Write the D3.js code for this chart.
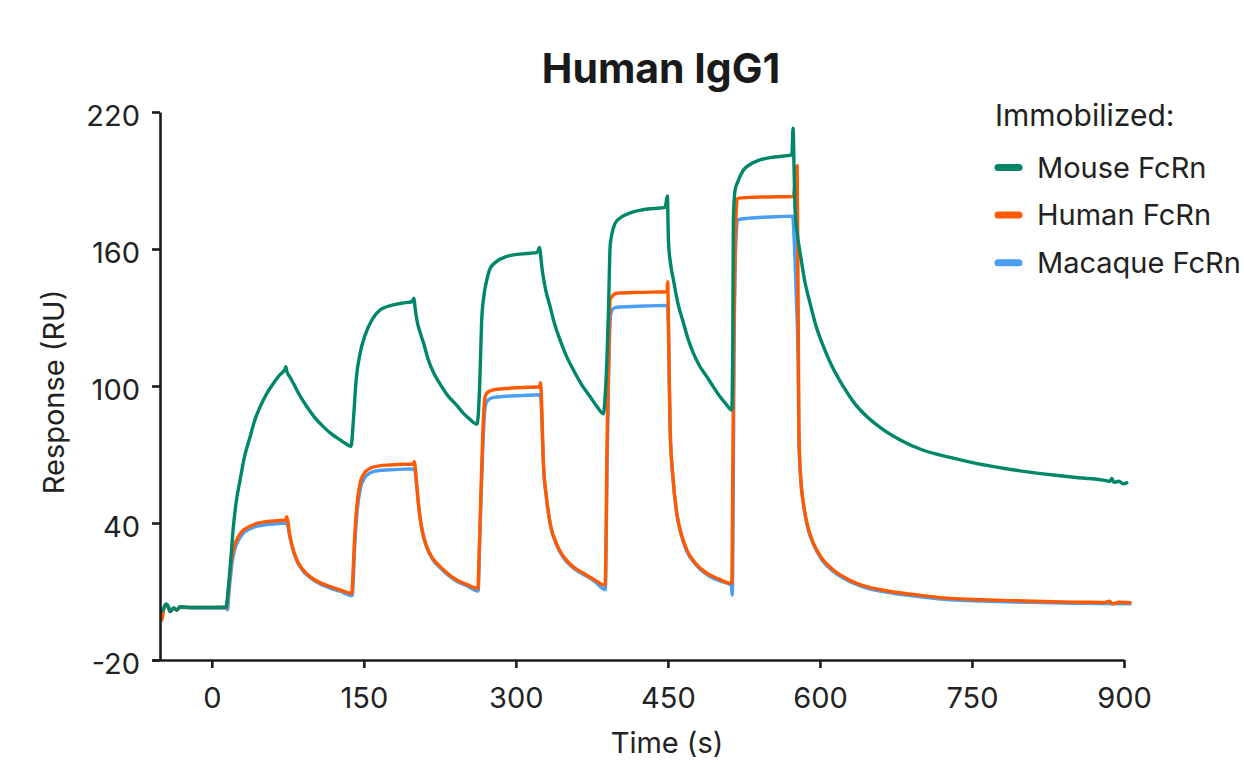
<!DOCTYPE html>
<html>
<head>
<meta charset="utf-8">
<script src="https://cdn.jsdelivr.net/npm/d3@7/dist/d3.min.js"></script>
<style>
  html, body { margin: 0; padding: 0; background: #fff; }
  svg { display: block; font-family: Inter, "Noto Sans", sans-serif; }
</style>
</head>
<body>
<svg id="chart" width="1244" height="763"></svg>
<script>
// ---------------- DATA ----------------
const title = "Human IgG1";
const xLabel = "Time (s)";
const yLabel = "Response (RU)";
const legendTitle = "Immobilized:";
const seriesNames = ["Mouse FcRn", "Human FcRn", "Macaque FcRn"];
const xTicks = [0, 150, 300, 450, 600, 750, 900];
const yTicks = [-20, 40, 100, 160, 220];
const xDomain = [-59, 900];
const yDomain = [-20, 220];

// [time (s), response (RU)]
const mouseFcRn = [
  [-49, 1.5], [-47.8, 2.2], [-45.1, 4.5], [-43, 3.5], [-41.1, 1.2], [-37.9, 2.8], [-34.5, 1.9], [-31.3, 3.3],
  [-20, 3.0], [0, 3.0], [14, 3.2],
  [16, 10], [18, 20], [21.3, 38.4], [24, 49], [27.9, 58.8], [32, 68.5], [37.8, 77.8], [42, 84.5], [47.7, 90.9],
  [54, 96.5], [60.8, 101.2], [67, 104.8], [72.3, 107.5], [73, 108.5],
  [74, 106.5], [77, 104], [80.5, 101.2], [86, 96.5], [93.7, 91], [101, 86.5], [110, 82.2], [118, 79], [126.6, 76.4],
  [132, 74.8], [137.4, 73.6],
  [139.7, 85.1], [142.4, 102.6], [146.3, 114.3], [151.3, 122.3], [157.9, 128.9], [166.1, 133.3], [179.2, 135.5],
  [188, 136.3], [197.3, 136.9], [199.5, 138.4],
  [200.5, 134.5], [202.3, 128.9], [205.5, 123.5], [208.8, 119], [213.7, 111.4], [218.6, 106], [225, 101],
  [231.9, 96.3], [241.7, 91.5], [248.3, 88], [255, 85.3], [261.5, 83.3],
  [263, 88], [264.5, 103], [266.2, 128], [268.3, 139], [271.3, 146.4], [274.6, 151.5], [281.2, 154.6], [290, 156.6],
  [297.6, 157.4], [310, 158], [320.7, 158.4], [323.5, 160.7],
  [324.5, 157], [325.6, 152.3], [329, 143], [333.8, 134.7], [338, 127.5], [343.7, 120.1], [350, 113], [356.8, 107],
  [365, 100.5], [373.3, 95.3], [380, 91], [386.4, 87.8],
  [388, 95], [389.7, 110], [391.3, 131.8], [393, 161], [394.5, 166], [397.9, 171.2], [402, 173.3], [407.8, 174.9],
  [415, 176.2], [424.2, 177.1], [435, 177.7], [447.2, 178.2], [449.5, 183.2],
  [450.2, 170], [450.6, 163], [452.5, 154], [455.5, 146.4], [460, 136], [465.4, 127.5], [470, 120.5], [475.2, 114.3],
  [481, 109], [488.4, 104.1], [495, 99.5], [501.5, 95.3], [507, 92.3], [513, 89.5],
  [514, 120], [514.6, 172.7], [516.3, 185.8], [519, 189.5], [524.5, 194.6], [531, 197], [541, 199], [555, 200.3],
  [572.3, 201.2], [573.5, 212.9],
  [574.5, 195], [575.5, 177], [577.5, 167], [580.5, 158.1], [585, 146], [590.3, 136.2], [596, 126.5], [603.5, 117.2],
  [612, 108.5], [623.2, 99.7], [634, 92.5], [646.3, 86.6], [662, 81], [679.2, 76.4], [700, 72.2], [728.5, 68.7],
  [755, 66], [781, 64], [805, 62.4], [830.4, 61], [855, 59.8], [879.7, 58.8], [886, 58.2], [888, 59.5], [890, 57.8],
  [895, 58.3], [899, 57.2], [902.8, 57.6]
];

const humanFcRn = [
  [-49.5, -2.5], [-48.5, -1], [-47.8, 1.9], [-45.1, 4.3], [-43, 3.3], [-41.1, 1.2], [-37.9, 2.7], [-34.5, 1.9],
  [-31.3, 3.2], [-20, 3.0], [0, 3.0], [14.5, 3.0],
  [15.5, 6], [17, 13], [18.3, 19.5], [20, 25.5], [22.3, 30], [24.9, 33], [28, 35.3], [31.2, 36.9], [37.8, 38.6],
  [45, 39.9], [54.3, 40.6], [65, 41.0], [73, 41.3], [74, 42.8],
  [75.5, 39.5], [76.6, 35.5], [79, 30.5], [83.9, 23.8], [90, 19.5], [97, 16.5], [106, 14], [116.7, 12.1],
  [127, 10.6], [138.1, 9.2],
  [139, 15], [140.5, 30], [143, 47.1], [146.3, 57.4], [150, 61.5], [156.2, 64], [165, 65], [176, 65.4],
  [190, 65.7], [199, 65.8], [200, 67],
  [201, 63], [202.3, 55.9], [205, 44], [208, 36], [212.1, 29.6], [218, 24.5], [225.3, 20.9], [233, 17.8],
  [241.7, 15], [252, 13], [262.5, 11.4],
  [264, 30], [266.4, 66.1], [268, 86], [269.7, 95.3], [272, 97.2], [277.9, 98.3], [290, 98.9], [305, 99.3],
  [323.5, 99.7], [324.3, 101.5],
  [325.3, 94], [326.2, 80], [327.2, 66.1], [330, 52], [333.8, 39.9], [340, 31], [347, 25.3], [356, 21],
  [366.7, 18], [377, 15.3], [388.1, 12.8],
  [389, 35], [389.7, 66.1], [391.5, 110], [393, 137.7], [394.7, 139.1], [399.6, 140.6], [420, 141], [449, 141.3],
  [449.8, 145.7],
  [450.5, 130], [451.3, 105], [452.2, 80.7], [455, 60], [458.8, 44.2], [463, 35.5], [468.7, 28.2], [477, 22.5],
  [488.4, 18], [500, 15.5], [513, 13.6],
  [514, 60], [515, 120], [516.5, 165], [518.6, 182.2], [530, 182.6], [550, 182.8], [573.5, 183], [577.5, 196.5],
  [578.3, 150], [578.8, 114], [579.3, 80], [581, 60], [583.7, 48.6], [588, 38.5], [593.6, 31.1], [602, 24.5],
  [613.3, 19.4], [628, 15.3], [646.3, 12.1], [670, 10], [695.6, 8.5], [728.5, 7], [760, 6.4], [790, 6],
  [830, 5.5], [860, 5.3], [880, 5.2], [886, 5.8], [888, 4.6], [895, 5.3], [906, 5.1]
];

const macaqueFcRn = [
  [-49.5, -2], [-48, 1.5], [-45.1, 4], [-43, 3.2], [-41.1, 1.2], [-37.9, 2.6], [-34.5, 1.9], [-31.3, 3.1],
  [-20, 2.9], [0, 2.9], [15, 2.6], [15.5, 2],
  [17, 10], [18.6, 17], [20.4, 23.8], [22.7, 28.5], [25.3, 31.6], [28.5, 34], [31.7, 35.8], [38, 37.5],
  [45, 38.6], [54.5, 39.3], [65, 39.7], [73, 40],
  [74.5, 39.3], [76.6, 35], [79, 30], [84, 23.3], [90, 19], [97, 16], [106, 13.5], [116.7, 11.5], [127, 10],
  [138.5, 8.2],
  [139.5, 14], [141, 30], [143.5, 45.5], [146.8, 55.5], [150.5, 59.5], [156.5, 62], [165, 63], [176, 63.3],
  [190, 63.6], [200, 63.7],
  [201, 61], [202.5, 55], [205, 43.5], [208, 35.5], [212.3, 29], [218, 24], [225.3, 20.4], [233, 17.3],
  [241.7, 14.5], [252, 12.4], [262.8, 10.2],
  [264.2, 30], [266.6, 63], [268.4, 83], [270.2, 92], [273, 94], [278, 95], [290, 95.5], [305, 95.8], [324, 96.2],
  [325, 92], [326, 80], [327.2, 65.5], [330, 51.5], [334, 39.3], [340, 30.5], [347, 24.8], [356, 20.5],
  [366.7, 17.4], [377, 14.7], [388.3, 10.8],
  [389.2, 35], [390, 66], [391.8, 110], [393.4, 131], [396.3, 134], [400, 134.5], [420, 134.9], [449.5, 135.3],
  [450.5, 125], [451.3, 103], [452.3, 80], [455, 59.5], [459, 43.5], [463, 35], [468.7, 27.6], [477, 22],
  [488.4, 17.4], [500, 14.8], [512.5, 12.8], [513.5, 8.5],
  [514.3, 40], [515.2, 110], [516.8, 160], [518.8, 172.8], [530, 173.5], [550, 174], [573, 174.4],
  [575, 160], [577, 135], [578.5, 110], [579.2, 76], [581.2, 58.5], [584, 47.5], [588, 37.8], [594, 30.3],
  [602, 23.8], [613.3, 18.8], [628, 14.7], [646.3, 11.5], [670, 9.4], [695.6, 7.9], [728.5, 6.4], [760, 5.8],
  [790, 5.4], [830, 5], [860, 4.8], [880, 4.7], [906, 4.6]
];

// ---------------- DRAWING ----------------
const colors = { mouse: "#00876a", human: "#ff5a00", macaque: "#4a9ff5" };
const axisColor = "#1c1c1c";
const textColor = "#222";
const fontSize = 29;

const svg = d3.select("#chart");

const x = d3.scaleLinear().domain(xDomain).range([152, 1124]);
const y = d3.scaleLinear().domain(yDomain).range([660, 112]);
const yAxisX = 160;

// lines
const line = d3.line()
  .x(d => x(d[0]))
  .y(d => y(d[1]))
  .curve(d3.curveMonotoneX);

const drawOrder = [
  { data: macaqueFcRn, color: colors.macaque },
  { data: humanFcRn, color: colors.human },
  { data: mouseFcRn, color: colors.mouse }
];
svg.append("g").selectAll("path")
  .data(drawOrder)
  .join("path")
  .attr("d", d => line(d.data))
  .attr("fill", "none")
  .attr("stroke", d => d.color)
  .attr("stroke-width", 3.4)
  .attr("stroke-linejoin", "round")
  .attr("stroke-linecap", "round");

const plainFormat = d => String(d);

// x axis
const xAxis = svg.append("g")
  .attr("transform", "translate(0,660)")
  .call(d3.axisBottom(x).tickValues(xTicks).tickSize(8).tickPadding(19).tickSizeOuter(0).tickFormat(plainFormat));
// y axis
const yAxis = svg.append("g")
  .attr("transform", `translate(${yAxisX},0)`)
  .call(d3.axisLeft(y).tickValues(yTicks).tickSize(8).tickPadding(12).tickSizeOuter(0).tickFormat(plainFormat));

[xAxis, yAxis].forEach(g => {
  g.attr("font-family", null);
  g.select(".domain").attr("stroke", axisColor).attr("stroke-width", 2.6);
  g.selectAll(".tick line").attr("stroke", axisColor).attr("stroke-width", 2.6);
  g.selectAll(".tick text")
    .attr("fill", textColor)
    .style("font-size", fontSize + "px")
    .style("font-family", "Inter, 'Noto Sans', sans-serif");
});
yAxis.selectAll(".tick text").attr("dy", "0.48em");

// axis titles
svg.append("text")
  .attr("x", 667).attr("y", 753)
  .attr("text-anchor", "middle")
  .attr("fill", textColor)
  .style("font-size", fontSize + "px")
  .text(xLabel);

svg.append("text")
  .attr("transform", "translate(64,392) rotate(-90)")
  .attr("text-anchor", "middle")
  .attr("fill", textColor)
  .style("font-size", fontSize + "px")
  .text(yLabel);

// title
svg.append("text")
  .attr("x", 661).attr("y", 83)
  .attr("text-anchor", "middle")
  .attr("fill", "#1a1a1a")
  .style("font-size", "41px")
  .style("font-weight", 700)
  .text(title);

// legend
const legend = svg.append("g");
legend.append("text")
  .attr("x", 995).attr("y", 126)
  .attr("fill", textColor)
  .style("font-size", "30px")
  .text(legendTitle);

const legendColors = [colors.mouse, colors.human, colors.macaque];
const legendRows = legend.selectAll("g.row")
  .data(seriesNames)
  .join("g")
  .attr("class", "row")
  .attr("transform", (d, i) => `translate(0,${167.5 + i * 47.6})`);
legendRows.append("line")
  .attr("x1", 998).attr("x2", 1019)
  .attr("y1", 0).attr("y2", 0)
  .attr("stroke", (d, i) => legendColors[i])
  .attr("stroke-width", 7)
  .attr("stroke-linecap", "round");
legendRows.append("text")
  .attr("x", 1037).attr("y", 10)
  .attr("fill", textColor)
  .style("font-size", "29px")
  .text(d => d);
</script>
</body>
</html>
